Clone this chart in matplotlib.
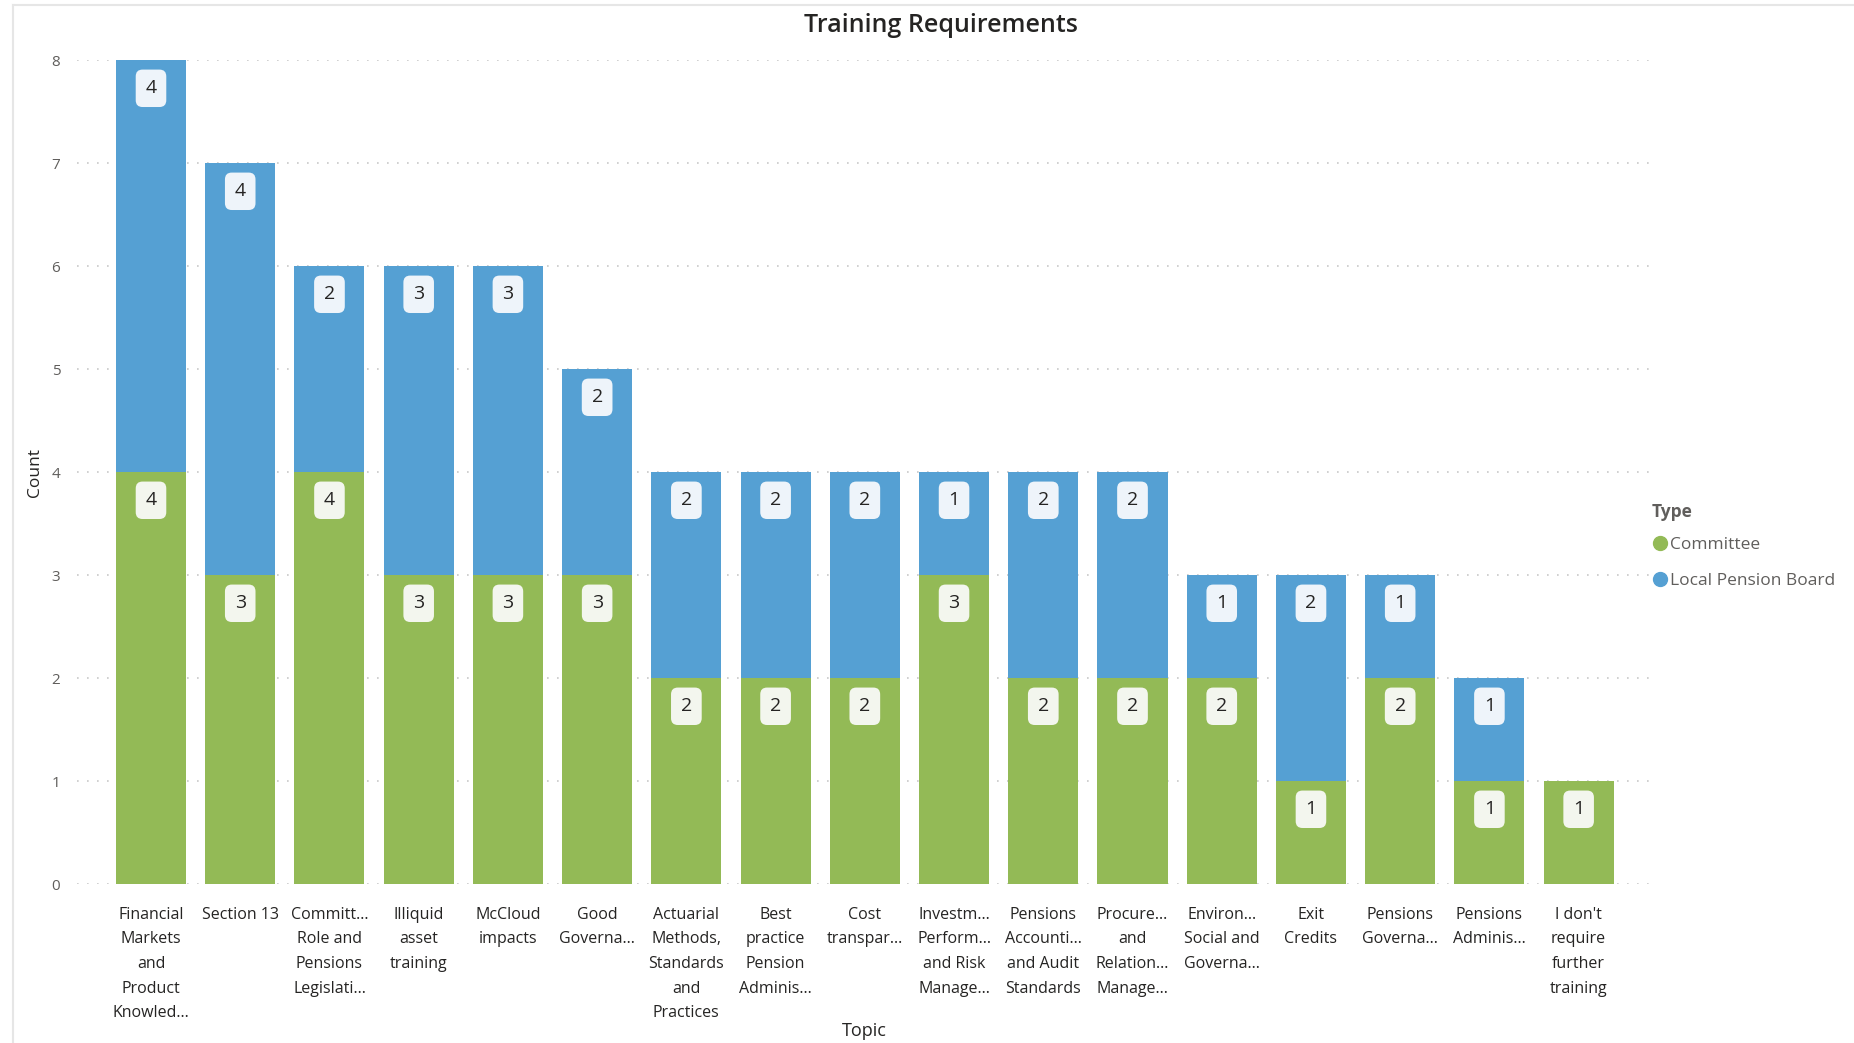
import numpy as np
import matplotlib.pyplot as plt
from matplotlib.lines import Line2D

plt.rcParams['font.family'] = ['Open Sans', 'DejaVu Sans']

topics = ["Financial\nMarkets\nand\nProduct\nKnowled...", "Section 13",
          "Committ...\nRole and\nPensions\nLegislati...", "Illiquid\nasset\ntraining",
          "McCloud\nimpacts", "Good\nGoverna...",
          "Actuarial\nMethods,\nStandards\nand\nPractices",
          "Best\npractice\nPension\nAdminis...", "Cost\ntranspar...",
          "Investm...\nPerform...\nand Risk\nManage...",
          "Pensions\nAccounti...\nand Audit\nStandards",
          "Procure...\nand\nRelation...\nManage...",
          "Environ...\nSocial and\nGoverna...", "Exit\nCredits",
          "Pensions\nGoverna...", "Pensions\nAdminis...",
          "I don't\nrequire\nfurther\ntraining"]
committee = [4, 3, 4, 3, 3, 3, 2, 2, 2, 3, 2, 2, 2, 1, 2, 1, 1]
local_board = [4, 4, 2, 3, 3, 2, 2, 2, 2, 1, 2, 2, 1, 2, 1, 1, 0]

green = '#93ba56'
blue = '#55a0d3'

fig = plt.figure(figsize=(18.54, 10.43), dpi=100)
ax = fig.add_axes([0.0415, 0.152, 0.848, 0.79])

x = np.arange(len(topics))
w = 0.785
ax.bar(x, committee, w, color=green, zorder=2)
ax.bar(x, local_board, w, bottom=committee, color=blue, zorder=2)

# data labels near the top of each segment
for i in range(len(topics)):
    c = committee[i]
    l = local_board[i]
    if c > 0:
        ax.text(x[i], c - 0.27, str(c), ha='center', va='center', fontsize=14,
                color='#252423', zorder=3,
                bbox=dict(boxstyle='round,pad=0.5,rounding_size=0.35',
                          fc='#f3f6ee', ec='none'))
    if l > 0:
        ax.text(x[i], c + l - 0.27, str(l), ha='center', va='center', fontsize=14,
                color='#252423', zorder=3,
                bbox=dict(boxstyle='round,pad=0.5,rounding_size=0.35',
                          fc='#eef4fa', ec='none'))

ax.set_xlim(-0.83, 16.79)
ax.set_ylim(0, 8)
ax.set_yticks(range(9))
ax.set_xticks(x)
ax.set_xticklabels(topics, fontsize=11.5, color='#252423', linespacing=1.72, va='top')
ax.tick_params(axis='x', length=0, pad=16)
ax.tick_params(axis='y', length=0, pad=12, labelsize=11, labelcolor='#605e5c')
ax.grid(axis='y', linestyle=(0, (1, 5)), color='#c8c8c8', linewidth=1.2, zorder=0)
for s in ax.spines.values():
    s.set_visible(False)

ax.set_ylabel("Count", fontsize=12.5, color='#252423', labelpad=6)
fig.text(0.4662, 0.003, "Topic", fontsize=13, color='#252423', ha='center', va='bottom')
fig.text(0.5075, 0.976, "Training Requirements", fontsize=18, fontweight='semibold',
         color='#252423', ha='center', va='center')

# legend
fig.text(0.891, 0.509, "Type", fontsize=12.5, fontweight='bold', color='#605e5c', va='center')
handles = [Line2D([], [], marker='o', linestyle='none', color=green, markersize=10),
           Line2D([], [], marker='o', linestyle='none', color=blue, markersize=10)]
fig.legend(handles, ["Committee", "Local Pension Board"], loc='upper left',
           bbox_to_anchor=(0.886, 0.494), frameon=False, fontsize=12.5,
           labelcolor='#605e5c', handletextpad=0.05, labelspacing=1.15,
           handlelength=1.0, borderpad=0)

# frame lines of the visual
fig.add_artist(Line2D([0.007, 0.007], [0, 0.995], color='#e6e6e6', linewidth=1.5))
fig.add_artist(Line2D([0.007, 1], [0.995, 0.995], color='#e6e6e6', linewidth=1.5))

fig.savefig('out.png', dpi=100)
